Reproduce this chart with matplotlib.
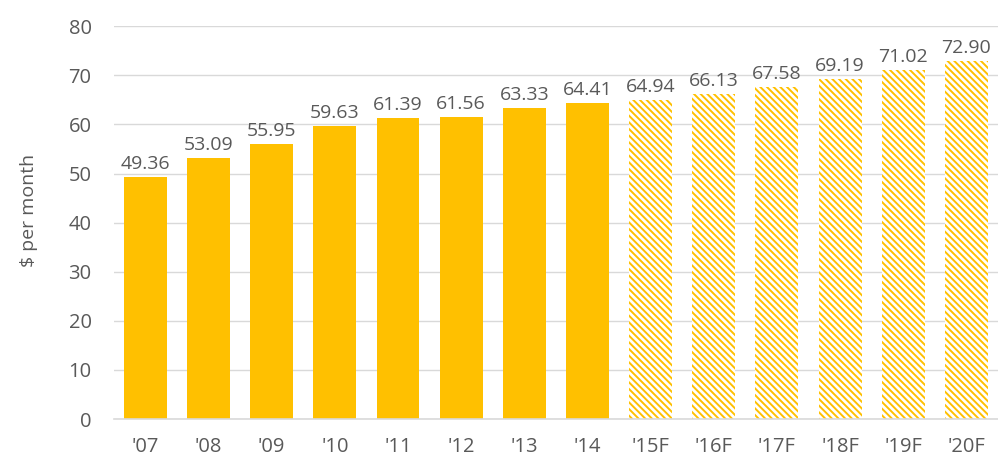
import matplotlib
matplotlib.use('Agg')
import matplotlib.pyplot as plt
import numpy as np

years = ["'07", "'08", "'09", "'10", "'11", "'12", "'13", "'14",
         "'15F", "'16F", "'17F", "'18F", "'19F", "'20F"]
values = [49.36, 53.09, 55.95, 59.63, 61.39, 61.56, 63.33, 64.41,
          64.94, 66.13, 67.58, 69.19, 71.02, 72.90]
forecast = [False] * 8 + [True] * 6

GOLD = '#FFC000'
TEXT = '#595959'
GRID = '#D9D9D9'

plt.rcParams['font.family'] = ['Open Sans', 'DejaVu Sans']
plt.rcParams['hatch.linewidth'] = 1.4

fig = plt.figure(figsize=(9.98, 4.59), dpi=100)
ax = fig.add_axes([0.114, 0.087, 0.886, 0.856])

x = np.arange(len(years))
for i, (v, f) in enumerate(zip(values, forecast)):
    if f:
        # forecast years drawn hatched
        ax.bar(i, v, width=0.68, color='white', edgecolor=GOLD, hatch='\\\\\\\\\\', linewidth=0, zorder=2)
    else:
        ax.bar(i, v, width=0.68, color=GOLD, linewidth=0, zorder=2)
    ax.text(i, v + 0.8, f'{v:.2f}', ha='center', va='bottom', fontsize=14, color=TEXT)

ax.set_xlim(-0.5, len(years) - 0.5)
ax.set_ylim(0, 80)
ax.set_yticks(range(0, 81, 10))
ax.set_xticks(x)
ax.set_xticklabels(years)
ax.yaxis.grid(True, color=GRID, linewidth=1, zorder=0)
ax.set_axisbelow(True)
for s in ['top', 'right', 'left']:
    ax.spines[s].set_visible(False)
ax.spines['bottom'].set_color(GRID)
ax.spines['bottom'].set_linewidth(1.2)
ax.tick_params(axis='both', length=0, labelsize=14.5, labelcolor=TEXT)
ax.tick_params(axis='x', pad=13)
ax.tick_params(axis='y', pad=16)
ax.set_ylabel('$ per month', fontsize=14, color=TEXT, labelpad=22, y=0.53)

fig.savefig('out.png', dpi=100)
